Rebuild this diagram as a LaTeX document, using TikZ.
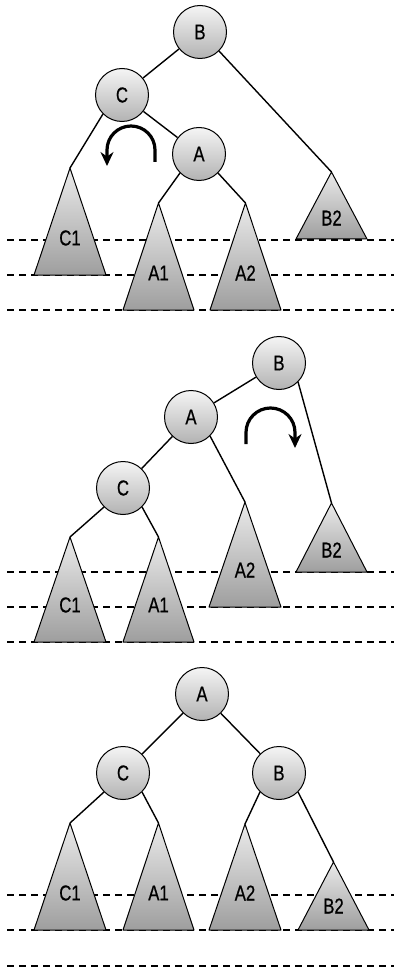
\documentclass[tikz,border=0pt]{standalone}
\usepackage{fontspec}
\setmainfont{Liberation Sans}
\newfontfamily\lblfont{Liberation Sans}[FakeStretch=0.78, FakeBold=0.6, Scale=2.15]
\usetikzlibrary{arrows.meta}
\newcommand\subtree[7]{%
  \coordinate (#1) at (#2,#3);
  \shadedraw[subtri] (#1) -- ++(-#5,#4-#3) -- ++(2*#5,0) -- cycle;
  \node[lbl] (#1l) at (#2,#6-2) {#7};}
\newcommand\levelline[2]{%
  \coordinate (#1w) at (7,#2);
  \coordinate (#1e) at (394,#2);
  \draw[levelln] (#1w) -- (#1e);}
\begin{document}
\begin{tikzpicture}[x=1pt,y=-1pt,
  treenode/.style={circle, draw, line width=1pt, minimum size=53pt, inner sep=0pt,
    top color=black!4, bottom color=black!30, font=\lblfont},
  lbl/.style={inner sep=0pt, font=\lblfont},
  edge/.style={line width=1.4pt},
  levelln/.style={line width=1.2pt, dash pattern=on 7pt off 5pt},
  rotarrow/.style={line width=3.2pt, -{Stealth[length=14pt,width=13pt]}},
  subtri/.style={line width=1pt, line join=round, top color=black!8, bottom color=black!38}
]
\useasboundingbox (0,0) rectangle (394,968);

% ---------- panel 1 ----------
\levelline{pa}{240}
\levelline{pb}{275}
\levelline{pc}{310}
\node[treenode] (B1) at (200,32) {B};
\node[treenode] (C1) at (122,95) {C};
\node[treenode] (A1) at (199,154) {A};
\subtree{tC1a}{70}{168}{275}{36}{240}{C1}
\subtree{tA1a}{158.5}{203}{310}{35.5}{275}{A1}
\subtree{tA2a}{245.5}{203}{310}{35.5}{275}{A2}
\subtree{tB2a}{331.5}{172}{239}{35.5}{220}{B2}
\draw[edge] (B1) -- (C1);
\draw[edge] (B1.south east) -- (tB2a);
\draw[edge] (C1) -- (A1);
\draw[edge] (C1.south west) -- (tC1a);
\draw[edge] (A1.south west) -- (tA1a);
\draw[edge] (A1.south east) -- (tA2a);
\coordinate (r1s) at (155,162);
\coordinate (r1e) at (107,166);
\draw[rotarrow] (r1s) -- ++(0,-12) arc[start angle=0, end angle=-180, radius=24] -- (r1e);

% ---------- panel 2 ----------
\levelline{pd}{572}
\levelline{pe}{607}
\levelline{pf}{642}
\node[treenode] (B2) at (279,363) {B};
\node[treenode] (A2) at (191,417) {A};
\node[treenode] (C2) at (123,488) {C};
\subtree{tC1b}{70}{537}{642}{36}{607}{C1}
\subtree{tA1b}{158.5}{537}{642}{35.5}{607}{A1}
\subtree{tA2b}{245}{502}{607}{36}{572}{A2}
\subtree{tB2b}{331.5}{503}{572}{35.5}{552}{B2}
\draw[edge] (B2) -- (A2);
\draw[edge] (B2.south east) -- (tB2b);
\draw[edge] (A2) -- (C2);
\draw[edge] (A2.south east) -- (tA2b);
\draw[edge] (C2.south west) -- (tC1b);
\draw[edge] (C2.south east) -- (tA1b);
\coordinate (r2s) at (246,444);
\coordinate (r2e) at (295,448);
\draw[rotarrow] (r2s) -- ++(0,-11.5) arc[start angle=180, end angle=360, radius=24.5] -- (r2e);

% ---------- panel 3 ----------
\levelline{pg}{895}
\levelline{ph}{930}
\levelline{pi}{966}
\node[treenode] (A3) at (202,694) {A};
\node[treenode] (C3) at (123,773) {C};
\node[treenode] (B3) at (279,773) {B};
\subtree{tC1c}{70}{823}{930}{36}{895}{C1}
\subtree{tA1c}{158.5}{823}{930}{35.5}{895}{A1}
\subtree{tA2c}{245}{824}{930}{36}{895}{A2}
\subtree{tB2c}{333.5}{862}{930}{35.5}{908}{B2}
\draw[edge] (A3) -- (C3);
\draw[edge] (A3) -- (B3);
\draw[edge] (C3.south west) -- (tC1c);
\draw[edge] (C3.south east) -- (tA1c);
\draw[edge] (B3.south west) -- (tA2c);
\draw[edge] (B3.south east) -- (tB2c);
\end{tikzpicture}
\end{document}
